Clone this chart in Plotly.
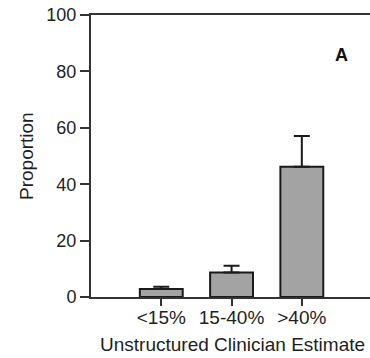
import plotly.graph_objects as go

categories = ["<15%", "15-40%", ">40%"]
values = [2.8, 8.7, 46.2]
err_upper = [0.8, 2.4, 10.9]
y_ticks = [0, 20, 40, 60, 80, 100]

font_family = "Liberation Sans, Arial, sans-serif"
txt = "#1e1e1e"

pl, pr, pt, pb = 91, 0, 15, 61
W, H = 370, 358
pw, ph = W - pl - pr, H - pt - pb


def px_x(x):
    return (x - pl) / pw


def px_y(y):
    return (H - pb - y) / ph


fig = go.Figure()
fig.add_trace(go.Bar(
    x=[0, 1, 2], y=values, width=0.61,
    marker=dict(color="#a3a3a3", line=dict(color="#1a1a1a", width=2)),
    error_y=dict(type="data", array=err_upper, arrayminus=[0, 0, 0], symmetric=False,
                 color="#1a1a1a", thickness=2, width=8),
))

fig.add_annotation(x=px_x(341), y=px_y(55), xref="paper", yref="paper", text="<b>A</b>",
                   xanchor="center", yanchor="middle",
                   showarrow=False, font=dict(size=18, color="#111", family=font_family))
fig.add_annotation(x=px_x(232), y=px_y(344), xref="paper", yref="paper",
                   text="Unstructured Clinician Estimate", xanchor="center", yanchor="middle",
                   showarrow=False, font=dict(size=19, color=txt, family=font_family))
fig.add_annotation(x=px_x(26), y=px_y(156), xref="paper", yref="paper", text="Proportion",
                   textangle=-90, xanchor="center", yanchor="middle",
                   showarrow=False, font=dict(size=19, color=txt, family=font_family))

fig.update_layout(
    width=W, height=H,
    margin=dict(l=pl, r=pr, t=pt, b=pb, autoexpand=False),
    plot_bgcolor="white", paper_bgcolor="white",
    showlegend=False,
    font=dict(family=font_family, size=18, color=txt),
    xaxis=dict(range=[-1, 2.97], tickvals=[0, 1, 2], ticktext=categories, automargin=False,
               showgrid=False, zeroline=False, showline=True, linecolor="#333", linewidth=2,
               mirror=True, ticks="outside", ticklen=7, tickwidth=2, tickcolor="#333",
               ticklabelstandoff=-5, tickfont=dict(size=19)),
    yaxis=dict(range=[0, 100], tickvals=y_ticks, showgrid=False, zeroline=False, automargin=False,
               showline=True, linecolor="#333", linewidth=2, ticks="outside", ticklen=9,
               tickwidth=2, tickcolor="#333", tickfont=dict(size=18)),
)

fig.write_html("out.html", config={"displayModeBar": False},
               post_script="document.body.style.margin='0';document.body.style.overflow='hidden';document.documentElement.style.overflow='hidden';")
